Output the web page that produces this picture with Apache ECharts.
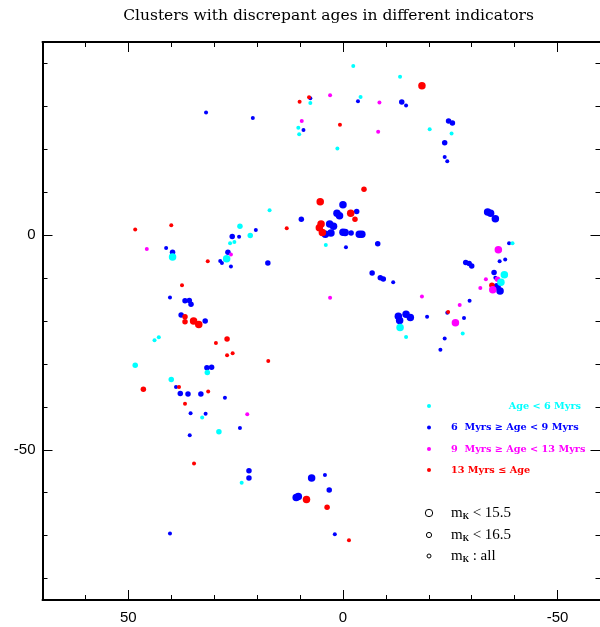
<!DOCTYPE html>
<html>
<head>
<meta charset="utf-8">
<script src="https://cdn.jsdelivr.net/npm/echarts@6/dist/echarts.min.js"></script>
<style>
  html, body { margin: 0; padding: 0; background: #fff; }
  #chart { width: 600px; height: 627px; }
</style>
</head>
<body>
<div id="chart"></div>
<script>
// Cluster positions [x, y, magnitude class]
// magnitude class: 1 = m_K < 15.5, 2 = m_K < 16.5, 3 = all
const ageLt6 = [
  [26.3, -1.9, 3], [25.3, -1.6, 3], [27.1, -5.5, 1], [39.7, -5.1, 1], [24.0, 2.1, 2],
  [21.6, -0.1, 2], [17.1, 5.8, 3], [43.9, -24.5, 3], [42.9, -23.8, 3], [48.4, -30.3, 2],
  [31.6, -32.0, 2], [40.0, -33.6, 2], [32.8, -42.5, 3], [28.9, -45.8, 2], [23.6, -57.7, 3],
  [-13.3, -21.5, 1], [-14.7, -23.7, 3], [7.6, 30.8, 3], [-2.4, 39.4, 3], [-4.1, 32.2, 3],
  [-13.3, 36.9, 3], [10.4, 25.0, 3], [10.2, 23.5, 3], [1.3, 20.2, 3], [4.0, -2.3, 3],
  [-20.2, 24.7, 3], [-25.3, 23.7, 3], [-39.5, -1.9, 3], [-37.6, -9.2, 1], [-36.8, -11.0, 1],
  [-27.9, -22.9, 3]
];
const age6to9 = [
  [31.9, 28.6, 3], [41.2, -3.0, 3], [39.7, -4.0, 2], [28.6, -6.0, 3], [28.2, -6.5, 3],
  [26.8, -4.0, 2], [26.1, -7.3, 3], [25.8, -0.3, 2], [24.2, -0.4, 3], [20.3, 1.2, 3],
  [17.5, -6.5, 2], [9.7, 3.7, 2], [40.3, -14.5, 3], [36.8, -15.3, 2], [35.8, -15.2, 2],
  [35.4, -16.1, 2], [37.7, -18.6, 2], [32.1, -20.0, 2], [31.7, -30.9, 2], [30.6, -30.8, 2],
  [38.9, -35.4, 3], [37.9, -36.9, 2], [36.1, -37.0, 2], [33.1, -37.0, 2], [27.5, -37.9, 3],
  [35.5, -41.5, 3], [32.0, -41.6, 3], [35.7, -46.6, 3], [40.3, -69.5, 3], [24.0, -44.9, 3],
  [21.9, -54.9, 2], [21.9, -56.6, 2], [10.9, -61.1, 1], [10.4, -60.9, 1], [7.3, -56.6, 1],
  [4.2, -55.9, 3], [3.2, -59.4, 2], [1.9, -69.7, 3], [-12.9, -18.9, 1], [-14.7, -18.4, 1],
  [-15.7, -19.2, 1], [-13.2, -19.9, 1], [21.0, 27.3, 3], [7.6, 31.9, 3], [-3.5, 31.2, 3],
  [-13.7, 31.0, 2], [-14.7, 30.2, 3], [9.2, 24.5, 3], [0.0, 7.1, 1], [1.4, 5.1, 1],
  [0.8, 4.5, 1], [-3.2, 5.5, 2], [3.1, 2.6, 1], [2.2, 2.1, 1], [2.8, 0.5, 1],
  [4.1, 0.2, 1], [0.0, 0.7, 1], [-0.5, 0.6, 1], [-1.9, 0.5, 2], [-3.8, 0.2, 1],
  [-4.4, 0.2, 1], [-0.7, -2.8, 3], [-8.1, -2.0, 2], [-6.8, -8.8, 2], [-8.7, -9.9, 2],
  [-9.4, -10.2, 2], [-11.7, -11.0, 3], [-24.6, 26.6, 2], [-25.5, 26.1, 2], [-23.7, 21.5, 2],
  [-23.7, 18.2, 3], [-24.3, 17.2, 3], [-33.7, 5.4, 1], [-34.4, 5.1, 1], [-35.5, 3.8, 1],
  [-38.7, -1.9, 3], [-36.5, -6.1, 3], [-37.8, -5.7, 3], [-28.6, -6.4, 2], [-29.4, -6.6, 2],
  [-30.0, -7.2, 2], [-35.2, -8.7, 2], [-35.5, -9.9, 3], [-35.9, -12.0, 1], [-36.6, -13.0, 1],
  [-29.5, -15.3, 3], [-24.3, -18.1, 3], [-19.6, -19.0, 3], [-28.2, -19.3, 3], [-23.7, -24.1, 3],
  [-22.7, -26.7, 3]
];
const age9to13 = [
  [45.7, -3.2, 3], [26.1, -4.5, 3], [22.3, -41.7, 3], [3.0, 32.6, 3], [-8.5, 30.9, 3],
  [9.6, 26.6, 3], [-8.2, 24.1, 3], [3.0, -14.6, 3], [-36.2, -3.4, 1], [-36.0, -10.3, 2],
  [-33.3, -10.3, 3], [-32.0, -12.3, 3], [-34.9, -12.7, 1], [-18.4, -14.3, 3], [-27.2, -16.3, 3],
  [-26.2, -20.4, 1]
];
const ageGe13 = [
  [48.4, 1.3, 3], [40.0, 2.3, 3], [31.5, -6.1, 3], [13.1, 1.6, 3], [37.5, -11.7, 3],
  [36.8, -19.0, 2], [36.8, -20.2, 2], [34.8, -20.0, 1], [33.6, -20.8, 1], [29.6, -25.1, 3],
  [27.0, -24.2, 2], [27.0, -28.0, 3], [46.5, -35.9, 2], [38.2, -35.4, 3], [31.4, -36.4, 3],
  [36.8, -39.3, 3], [34.7, -53.2, 3], [25.7, -27.5, 3], [17.4, -29.3, 3], [8.5, -61.6, 1],
  [3.7, -63.4, 2], [-1.4, -71.1, 3], [10.1, 31.1, 3], [7.9, 32.1, 3], [0.7, 25.7, 3],
  [-4.9, 10.7, 2], [5.3, 7.8, 1], [-1.8, 5.1, 1], [-2.8, 3.7, 2], [5.1, 2.6, 1],
  [5.5, 1.7, 1], [4.8, 0.6, 1], [-18.4, 34.8, 1], [-34.7, -11.7, 2], [-24.5, -17.9, 3]
];

// Axis tick values
const xMinorTicks = [-50, -40, -30, -20, -10, 0, 10, 20, 30, 40, 50, 60];
const xMajorTicks = [-50, 0, 50];
const yMinorTicks = [-80, -70, -60, -50, -40, -30, -20, -10, 0, 10, 20, 30, 40];
const yMajorTicks = [-50, 0];

// Legend texts
const ageLabels = ['Age < 6 Myrs', '6  Myrs \u2265 Age < 9 Myrs', '9  Myrs \u2265 Age < 13 Myrs', '13 Myrs \u2264 Age'];
const magLabels = ['< 15.5', '< 16.5', ': all'];
const titleText = 'Clusters with discrepant ages in different indicators';

const colors = ['#00ffff', '#0000ff', '#ff00ff', '#ff0000'];
const sizeByClass = { 1: 7.5, 2: 5.5, 3: 4 };

const chart = echarts.init(document.getElementById('chart'), null, { renderer: 'canvas' });

function xAx(position, ticks, len, withLine, withLabels) {
  return {
    type: 'value', min: -60, max: 70, inverse: true, position: position,
    axisLine: { show: withLine, onZero: false, lineStyle: { color: '#000', width: 2 } },
    axisTick: { show: true, inside: true, length: len, customValues: ticks, lineStyle: { color: '#000', width: 1 } },
    axisLabel: withLabels ? { show: true, customValues: ticks, margin: 10, color: '#000', fontSize: 15, fontFamily: 'Liberation Sans' } : { show: false },
    splitLine: { show: false }
  };
}
function yAx(position, ticks, len, withLine, withLabels) {
  return {
    type: 'value', min: -85, max: 45, position: position,
    axisLine: { show: withLine, onZero: false, lineStyle: { color: '#000', width: 2 } },
    axisTick: { show: true, inside: true, length: len, customValues: ticks, lineStyle: { color: '#000', width: 1 } },
    axisLabel: withLabels ? { show: true, customValues: ticks, margin: 7, color: '#000', fontSize: 15, fontFamily: 'Liberation Sans' } : { show: false },
    splitLine: { show: false }
  };
}

const groups = [ageLt6, age6to9, age9to13, ageGe13];
// draw order: blue, red, magenta, cyan
const drawOrder = [1, 3, 2, 0];
const series = drawOrder.map(function (g) {
  return {
    type: 'scatter', name: ageLabels[g], xAxisIndex: 0, yAxisIndex: 0,
    data: groups[g],
    symbol: 'circle',
    symbolSize: function (v) { return sizeByClass[v[2]]; },
    itemStyle: { color: colors[g], opacity: 1, borderWidth: 0 },
    emphasis: { disabled: true },
    silent: true
  };
});

// Title and legend drawn as graphic elements
const legendFont = 'bold 9.7px "DejaVu Serif"';
const graphics = [];
graphics.push({
  type: 'text', x: 328.5, y: 16,
  style: { text: titleText, font: '15.5px "DejaVu Serif"', fill: '#000', textAlign: 'center', textVerticalAlign: 'middle' }
});
const ageRows = [406, 427.5, 449, 470];
ageLabels.forEach(function (t, i) {
  graphics.push({ type: 'circle', shape: { cx: 429, cy: ageRows[i], r: 2 }, style: { fill: colors[i] } });
  if (i === 0) {
    graphics.push({ type: 'text', x: 581, y: ageRows[i], style: { text: t, font: legendFont, fill: colors[i], textAlign: 'right', textVerticalAlign: 'middle' } });
  } else {
    graphics.push({ type: 'text', x: 451, y: ageRows[i], style: { text: t, font: legendFont, fill: colors[i], textAlign: 'left', textVerticalAlign: 'middle' } });
  }
});
const magRows = [513, 535, 556];
const magRadius = [3.7, 2.6, 2];
magLabels.forEach(function (t, i) {
  graphics.push({ type: 'circle', shape: { cx: 429, cy: magRows[i], r: magRadius[i] }, style: { fill: 'none', stroke: '#000', lineWidth: 1 } });
  graphics.push({
    type: 'text', x: 451, y: magRows[i],
    style: {
      text: '{m|m}{k|K}{t| ' + t + '}',
      textVerticalAlign: 'middle',
      rich: {
        m: { font: '15px "Liberation Serif"', fill: '#000' },
        k: { font: 'bold 8px "Liberation Serif"', fill: '#000', padding: [8, 0, 0, 0] },
        t: { font: '15px "Liberation Serif"', fill: '#000' }
      }
    }
  });
});

chart.setOption({
  animation: false,
  backgroundColor: '#fff',
  grid: { left: 42.5, top: 42, width: 558, height: 558, containLabel: false, outerBoundsMode: 'none' },
  xAxis: [
    xAx('bottom', xMinorTicks, 5, true, false),
    xAx('bottom', xMajorTicks, 10, false, true),
    xAx('top', xMinorTicks, 5, true, false),
    xAx('top', xMajorTicks, 10, false, false)
  ],
  yAxis: [
    yAx('left', yMinorTicks, 5, true, false),
    yAx('left', yMajorTicks, 10, false, true),
    yAx('right', yMinorTicks, 5, true, false),
    yAx('right', yMajorTicks, 10, false, false)
  ],
  series: series,
  graphic: graphics
});
</script>
</body>
</html>
